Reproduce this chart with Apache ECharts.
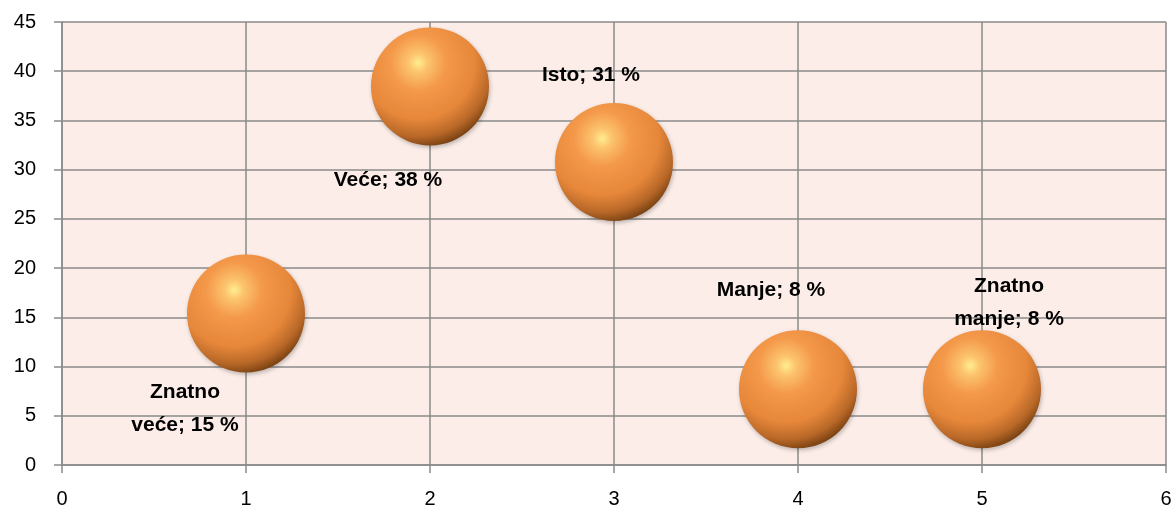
<!DOCTYPE html>
<html>
<head>
<meta charset="utf-8">
<script src="https://cdn.jsdelivr.net/npm/echarts@6/dist/echarts.min.js"></script>
<style>html,body{margin:0;padding:0;background:#fff}#c{width:1176px;height:510px}</style>
</head>
<body>
<div id="c"></div>
<script>
const categories = ['Znatno\nveće', 'Veće', 'Isto', 'Manje', 'Znatno\nmanje'];
const xValues = [1, 2, 3, 4, 5];
const yValues = [15.38, 38.46, 30.77, 7.69, 7.69];
const percentLabels = ['15 %', '38 %', '31 %', '8 %', '8 %'];
const xTicks = [0, 1, 2, 3, 4, 5, 6];
const yTicks = [0, 5, 10, 15, 20, 25, 30, 35, 40, 45];

// label placement (style, not data)
const labelOffsets = [[-61, 95], [-42, 94], [-23, -87], [-27, -99], [27, -87]];

const sphere = {
  type: 'radial', x: 0.4, y: 0.3, r: 0.8,
  colorStops: [
    { offset: 0, color: '#ffee90' },
    { offset: 0.1, color: '#fcc46e' },
    { offset: 0.3, color: '#f4984a' },
    { offset: 0.6, color: '#e6873a' },
    { offset: 0.78, color: '#b96828' },
    { offset: 0.9, color: '#7a4212' },
    { offset: 1, color: '#3a1c04' }
  ]
};

const chart = echarts.init(document.getElementById('c'));
const gridColor = '#8a8a8a';
chart.setOption({
  animation: false,
  grid: { left: 62, right: 10, top: 22, bottom: 45, show: true, backgroundColor: '#fcede8', borderWidth: 0 },
  xAxis: {
    type: 'value', min: xTicks[0], max: xTicks[xTicks.length - 1], interval: 1,
    axisLine: { show: true, lineStyle: { color: gridColor, width: 1.5 } },
    axisTick: { show: true, length: 8, lineStyle: { color: gridColor, width: 1.5 } },
    splitLine: { show: true, lineStyle: { color: gridColor, width: 1.5 } },
    axisLabel: { color: '#000', fontSize: 20, fontFamily: 'Liberation Sans', margin: 24 }
  },
  yAxis: {
    type: 'value', min: yTicks[0], max: yTicks[yTicks.length - 1], interval: 5,
    axisLine: { show: true, lineStyle: { color: gridColor, width: 1.5 } },
    axisTick: { show: true, length: 8, lineStyle: { color: gridColor, width: 1.5 } },
    splitLine: { show: true, lineStyle: { color: gridColor, width: 1.5 } },
    axisLabel: { color: '#000', fontSize: 20, fontFamily: 'Liberation Sans', margin: 26 }
  },
  series: [{
    type: 'scatter',
    symbolSize: 118,
    itemStyle: { color: sphere, opacity: 1, shadowColor: 'rgba(0,0,0,0.25)', shadowBlur: 4, shadowOffsetX: 1, shadowOffsetY: 2 },
    emphasis: { disabled: true },
    data: xValues.map((x, i) => ({
      value: [x, yValues[i]],
      label: {
        show: true, position: 'inside', offset: labelOffsets[i],
        formatter: categories[i] + '; ' + percentLabels[i],
        color: '#000', fontWeight: 'bold', fontSize: 21, fontFamily: 'Liberation Sans',
        lineHeight: 33, align: 'center', textBorderWidth: 0
      }
    }))
  }]
});
</script>
</body>
</html>
